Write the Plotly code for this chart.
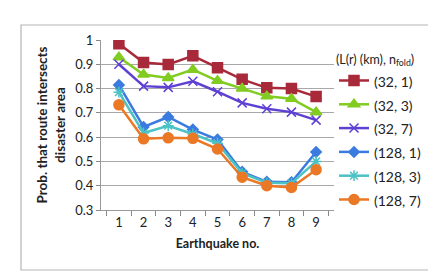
import plotly.graph_objects as go

quakes = ["1", "2", "3", "4", "5", "6", "7", "8", "9"]
s32_1 = [0.985, 0.907, 0.899, 0.935, 0.886, 0.838, 0.803, 0.800, 0.767]
s32_3 = [0.929, 0.858, 0.844, 0.878, 0.832, 0.800, 0.768, 0.758, 0.703]
s32_7 = [0.900, 0.810, 0.805, 0.830, 0.787, 0.741, 0.717, 0.703, 0.670]
s128_1 = [0.815, 0.642, 0.683, 0.631, 0.590, 0.457, 0.416, 0.414, 0.539]
s128_3 = [0.785, 0.617, 0.647, 0.613, 0.575, 0.452, 0.412, 0.410, 0.500]
s128_7 = [0.733, 0.593, 0.597, 0.595, 0.551, 0.435, 0.400, 0.393, 0.466]
names = ["(32, 1)", "(32, 3)", "(32, 7)", "(128, 1)", "(128, 3)", "(128, 7)"]

series = [s32_1, s32_3, s32_7, s128_1, s128_3, s128_7]
colors = ["#A82A3A", "#82CC22", "#5E40D3", "#3B7BE0", "#4CC2C4", "#EA7825"]
symbols = ["square", "triangle-up", "x-thin-open", "diamond", "asterisk-open", "circle"]
sizes = [10, 10, 9, 8, 9, 10]

FONT = "Lato"
fig = go.Figure()
for vals, nm, c, sym, sz in zip(series, names, colors, symbols, sizes):
    fig.add_trace(go.Scatter(
        x=quakes, y=vals, mode="lines+markers",
        name=f'<span style="font-size:14px">{nm}</span>',
        line=dict(color=c, width=2.5),
        marker=dict(symbol=sym, size=sz, color=c, line=dict(color=c, width=1.5)),
    ))

fig.update_layout(
    width=436, height=279,
    margin=dict(l=93, r=110, t=32, b=77),
    paper_bgcolor="white", plot_bgcolor="white",
    font=dict(family=FONT, size=12, color="#222"),
    showlegend=True,
    legend=dict(
        x=1.0, y=0.953, xanchor="left", yanchor="top",
        font=dict(family=FONT, size=16, color="#222"),
        title=dict(text='<span style="font-size:12.5px">(L(r) (km), n<sub>fold</sub>)</span>',
                   font=dict(family=FONT, size=12)),
        itemwidth=30, bgcolor="rgba(0,0,0,0)",
        tracegroupgap=0,
    ),
    xaxis=dict(
        type="category", tickson="boundaries", ticks="outside", ticklen=5,
        tickcolor="#888", showline=True, linecolor="#999", linewidth=1,
        showgrid=False, tickfont=dict(size=13),
        title=dict(text="<b>Earthquake no.</b>", font=dict(size=12.5), standoff=10),
    ),
    yaxis=dict(
        range=[0.3, 1.0], dtick=0.1, tickformat=".1~f",
        ticks="outside", ticklen=4, tickcolor="#888",
        showline=True, linecolor="#999", linewidth=1,
        showgrid=True, gridcolor="#A8A8A8", gridwidth=1,
        zeroline=False, tickfont=dict(size=13),
        title=dict(text="<b>Prob. that route intersects<br>disaster area</b>",
                   font=dict(size=13.5), standoff=6),
    ),
)

fig.add_shape(type="rect", xref="paper", yref="paper",
              x0=(13 - 93) / 233, x1=(421 - 93) / 233,
              y0=(202 - 262) / 170, y1=(202 - 17) / 170,
              line=dict(color="#B5B5B5", width=1.2), layer="below")

fig.write_html("out.html")
